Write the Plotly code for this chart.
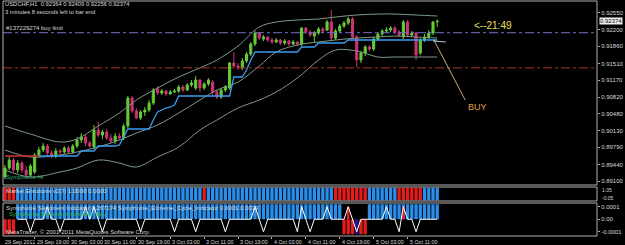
import plotly.graph_objects as go

# ---------------- data ----------------
bars = list(range(103))
opens = [.89182,.89366,.89530,.89325,.89469,.89325,.89223,.89284,.89633,.89735,
         .89817,.89674,.89612,.89715,.89694,.89776,.89694,.89817,.89940,.90002,
         .89879,.89797,.90145,.90043,.90104,.89981,.89920,.90022,.89981,.90227,
         .90801,.90535,.90391,.90514,.90555,.90699,.90986,.90904,.90945,.90883,
         .90924,.90945,.91027,.90965,.91068,.91006,.91170,.91006,.91088,.91129,
         .90924,.90822,.90965,.91006,.91519,.91457,.91416,.91560,.91703,.91908,
         .92134,.92011,.92052,.91990,.91949,.91990,.91929,.91970,.91908,.91949,
         .91908,.92236,.92154,.92072,.92134,.92216,.92195,.92359,.92031,.92175,
         .92277,.92339,.92421,.92052,.91580,.91724,.91847,.91806,.92011,.92113,
         .92175,.92195,.92236,.92154,.92052,.92359,.92093,.92134,.91724,.91990,
         .92052,.92134,.92364]
closes = [.89366,.89530,.89325,.89469,.89325,.89223,.89407,.89633,.89735,.89817,
          .89674,.89612,.89715,.89694,.89776,.89694,.89817,.89940,.90002,.89879,
          .89817,.90145,.90043,.90104,.89981,.89920,.90022,.89981,.90227,.90801,
          .90535,.90391,.90514,.90555,.90699,.90965,.90904,.90945,.90883,.90924,
          .90945,.91027,.90965,.91068,.91109,.91170,.91006,.91088,.91170,.90924,
          .90822,.90965,.91027,.91519,.91457,.91416,.91560,.91703,.91908,.92134,
          .92031,.92052,.91990,.91949,.91990,.91929,.91970,.91908,.91949,.91908,
          .92236,.92154,.92093,.92134,.92216,.92175,.92359,.92031,.92175,.92277,
          .92339,.92421,.92052,.91580,.91724,.91847,.91806,.92011,.92113,.92175,
          .92195,.92236,.92154,.92093,.92359,.92093,.92134,.91683,.91990,.92052,
          .92134,.92359,.92374]
highs = [.89428,.89592,.89571,.89530,.89510,.89407,.89448,.89674,.89797,.89879,
         .89858,.89735,.89776,.89756,.89817,.89817,.89858,.90002,.90084,.90043,
         .89920,.90248,.90309,.90145,.90166,.90063,.90084,.90084,.90268,.90842,
         .90842,.90596,.90555,.90617,.90760,.91006,.91047,.90986,.90965,.90965,
         .90986,.91068,.91068,.91109,.91170,.91252,.91191,.91129,.91211,.91170,
         .90965,.91006,.91068,.91539,.91744,.91519,.91621,.91744,.91949,.92175,
         .92154,.92093,.92072,.92031,.92031,.92011,.92011,.91990,.91990,.91970,
         .92257,.92257,.92195,.92175,.92257,.92257,.92400,.92605,.92216,.92318,
         .92380,.92462,.92462,.92093,.91765,.91888,.91888,.92052,.92154,.92216,
         .92257,.92277,.92277,.92195,.92400,.92400,.92175,.92154,.92031,.92113,
         .92195,.92380,.92409]
lows = [.89141,.89325,.89284,.89264,.89264,.89161,.89182,.89243,.89592,.89694,
        .89612,.89571,.89571,.89633,.89653,.89653,.89653,.89776,.89879,.89817,
        .89776,.89756,.90002,.89961,.89940,.89879,.89858,.89940,.89940,.90186,
        .90494,.90371,.90350,.90432,.90514,.90658,.90863,.90863,.90842,.90863,
        .90904,.90904,.90924,.90945,.91027,.90965,.90924,.90965,.91047,.90863,
        .90781,.90781,.90924,.90965,.91416,.91375,.91375,.91519,.91662,.91867,
        .91990,.91970,.91949,.91908,.91929,.91888,.91888,.91867,.91888,.91867,
        .91867,.92113,.92052,.91949,.92093,.92134,.92175,.91990,.91990,.92134,
        .92236,.92298,.92011,.91437,.91519,.91662,.91765,.91765,.91970,.92072,
        .92134,.92154,.92113,.92052,.92011,.92052,.92052,.91580,.91683,.91949,
        .92011,.92093,.92256]

# Bollinger bands read at sample bars
band_bars = [0, 6, 13, 17, 22, 27, 31, 36, 41, 46, 50, 55, 60, 64, 69, 74, 78, 83, 88, 92, 97, 102]
band_upper = [.90227,.90063,.89899,.89961,.90227,.90494,.90760,.91006,.91232,.91416,.91580,
              .91867,.92257,.92359,.92400,.92421,.92462,.92503,.92523,.92523,.92503,.92482]
band_mid = [.89735,.89592,.89633,.89694,.89797,.89940,.90084,.90248,.90494,.90760,.90965,
            .91129,.91457,.91744,.91888,.91949,.91990,.92031,.92052,.92072,.92052,.92031]
band_lower = [.89325,.89182,.89284,.89366,.89530,.89469,.89387,.89592,.89797,.90145,.90350,
              .90596,.90760,.90924,.91211,.91580,.91785,.91765,.91642,.91642,.91642,.91642]

# Symphonie trend line, one value per bar
trend = ([.89612]*18 + [.89715]*4 + [.89817]*5 + [.89838, .90002] + [.90166]*6 +
         [.90350, .90514, .90555, .90596, .90617, .90658] + [.90842]*13 + [.91232]*3 +
         [.91375, .91580] + [.91744]*11 + [.91847]*4 + [.91929]*7 + [.91990]*22)
trend_red_until = 8

buy_limit = 0.92140
stop_level = 0.91420
last_price = 0.92374
buy_mark = [0.91970, 0.91950]

price_ticks = [0.92550, 0.92200, 0.91860, 0.91510, 0.91170, 0.90820, 0.90480,
               0.90130, 0.89790, 0.89440, 0.89100]

time_label_bars = [-0.45, 7, 15, 23, 31, 39, 47, 55, 63, 71, 79, 87, 95]
time_labels = ["29 Sep 2011", "29 Sep 19:00", "30 Sep 03:00", "30 Sep 11:00", "30 Sep 19:00",
               "3 Oct 03:00", "3 Oct 11:00", "3 Oct 19:00", "4 Oct 03:00", "4 Oct 11:00",
               "4 Oct 19:00", "5 Oct 03:00", "5 Oct 11:00"]

# Market Emotions state per bar (R = red, B = blue)
emotions = ("RRRBBBBBBB" "BBBBBBBBBB" "BBBBBBBBBB" "BBBBBBBBBB" "BBBBBBBRBB"
            "BBBBBBBBBB" "BBBBBBBBBB" "BBBBBBBBRR" "RRRRRRBBBB" "BBBRRRRRRB" "BBB")
# Sentiment per bar (B = blue up, R = red down, N = navy down)
sentiment = ("RRRBBBBBBB" "BBBBBBBBBB" "BBBBBBBBBB" "BBBBBBBBBB" "BBBBBBBBBB"
             "BBBBBBBBBB" "BBBBBBBBBB" "BBBBBBBBBB" "RRRNRRBBBB" "BBBBBBBBBB" "BBB")
spike_red_up = [81, 94]
# Extreme cycle line (units of 0.0001)
cycle = [0, 0, 0, 0, 0, 0, -1, 0, 0, 0,
         1, 0, 0, -1, 0, 0, 0, 0, 0, 1,
         0, 1, 0, -1, 0, 0, 0, 0, 0, 0,
         0, 0, -1, 0, 0, 0, 0, 0, 0, 0,
         -1, 0, 0, 0, 0, -1, 0, 0, 0, 0,
         0, 0, -1, 0, 0, 0, 0, 0, 0, 1,
         0, -1, 0, 0, 0, 0, 0, 0, 0, -1,
         1, 0, -1, 0, 0, 0, 1, 0, 0, 0,
         0, 1, 0, -1, 0, 0, 0, 0, 0, 0,
         1, 0, 0, -1, 1, 0, 0, -1, 0, 0,
         0, 0, 0]

# ---------------- styling ----------------
BG = "black"
GREEN = "#66CC33"
PINK = "#CC3377"
BAND = "#7E9A86"
FONT = "Liberation Sans"
TXT = "#D8D8D8"
FRAME = "#B0B0B0"

H_TOP, H_BOT = 1, 236
plot_h = H_BOT - H_TOP
def py(p):
    return (H_BOT - p) / plot_h

def pxx(p):
    return (p - 3) / 601

fig = go.Figure()

for band in (band_upper, band_mid, band_lower):
    fig.add_trace(go.Scatter(x=band_bars, y=band, mode="lines",
                             line=dict(color=BAND, width=1, shape="spline"), hoverinfo="skip"))

fig.add_trace(go.Scatter(x=bars[:trend_red_until + 1], y=trend[:trend_red_until + 1], mode="lines",
                         line=dict(color="#D03030", width=1.6)))
fig.add_trace(go.Scatter(x=bars[trend_red_until:], y=trend[trend_red_until:], mode="lines",
                         line=dict(color="#3C9CF2", width=1.3)))
fig.add_trace(go.Scatter(x=[bars[-1] - 1, bars[-1] + 2], y=buy_mark, mode="lines",
                         line=dict(color="#C8C8C8", width=1)))

fig.add_trace(go.Candlestick(x=bars, open=opens, high=highs, low=lows, close=closes,
                             increasing=dict(line=dict(color=GREEN, width=1), fillcolor=GREEN),
                             decreasing=dict(line=dict(color=PINK, width=1), fillcolor=PINK),
                             whiskerwidth=0))

# Market Emotions panel
emo_colors = ["#E31C1C" if s == "R" else "#2A8EEA" for s in emotions]
fig.add_trace(go.Bar(x=bars, y=[1]*len(bars), marker=dict(color=emo_colors, line=dict(width=0)),
                     width=0.78, xaxis="x", yaxis="y2"))

# Sentiment panel
sent_vals = [1.2e-4 if s == "B" else -1.2e-4 for s in sentiment]
sent_cols = {"B": "#2A8EEA", "R": "#E31C1C", "N": "#1A1AA0"}
fig.add_trace(go.Bar(x=bars, y=sent_vals, marker=dict(color=[sent_cols[s] for s in sentiment], line=dict(width=0)),
                     width=0.78, xaxis="x", yaxis="y3"))
fig.add_trace(go.Bar(x=spike_red_up, y=[1e-4]*len(spike_red_up), marker=dict(color="#E31C1C", line=dict(width=0)),
                     width=0.6, xaxis="x", yaxis="y3"))
fig.add_trace(go.Scatter(x=bars[3:], y=[v * 1e-4 for v in cycle[3:]], mode="lines",
                         line=dict(color="white", width=1), xaxis="x", yaxis="y3"))

shapes = []
shapes.append(dict(type="line", xref="paper", x0=0, x1=1, yref="y", y0=buy_limit, y1=buy_limit,
                   line=dict(color="#7272C8", width=1, dash="dashdot")))
shapes.append(dict(type="line", xref="paper", x0=0, x1=1, yref="y", y0=stop_level, y1=stop_level,
                   line=dict(color="#A83232", width=1, dash="dashdot")))
shapes.append(dict(type="line", xref="x", yref="y", x0=101.2, y0=0.91990, x1=108.6, y1=0.90760,
                   line=dict(color="#C8A878", width=1)))
for (b, t) in [(185, 1), (201, 187), (236, 203)]:
    shapes.append(dict(type="rect", xref="paper", yref="paper", x0=0, x1=1, y0=py(b), y1=py(t),
                       line=dict(color=FRAME, width=1), fillcolor="rgba(0,0,0,0)"))

ann = []
def txt(x, y, s, color=TXT, size=6, xref="paper", yref="paper", xanchor="left", yanchor="middle"):
    ann.append(dict(x=x, y=y, xref=xref, yref=yref, text=s, showarrow=False, xanchor=xanchor,
                    yanchor=yanchor, font=dict(family=FONT, size=size, color=color)))

txt(pxx(3), py(4.5), "USDCHF,H1  0.92364 0.92409 0.92256 0.92374", size=5.8)
txt(pxx(3), py(11.5), "3 minutes 8 seconds left to bar end", size=5.8)
txt(pxx(4), buy_limit, "#137229274 buy limit", yref="y", yanchor="bottom")
txt(pxx(4), py(177), "Symphonie Hi", color="#33B07A")
txt(110.3, 0.92298, "<--21:49", color="#E8E060", size=10, xref="x", yref="y")
txt(108.8, 0.90620, "BUY", color="#E0A050", size=9, xref="x", yref="y")
txt(pxx(4), py(191), "Market Emotions v2(7) 1.0000 0.0000")
txt(pxx(4), py(208), "Symphonie Sentiment Indicator 0.267174 Symphonie_Extreme_Cycle_Indicator 0.0001 0.0039")
txt(pxx(7), py(213.5), "Symphonie Sentiment Indicator: Buy", color="#2FB84A")
txt(pxx(4), py(232), "MetaTrader, \u00a9 2001-2011 MetaQuotes Software Corp.")
ann.append(dict(x=1, y=last_price, xref="paper", yref="y", text="0.92374", showarrow=False,
                xanchor="left", yanchor="middle", xshift=2, bgcolor="#F0F0F0", borderpad=0,
                font=dict(family=FONT, size=6, color="black")))
ann.append(dict(x=1, y=py(189.5), xref="paper", yref="paper", text="1.05", showarrow=False, xanchor="left",
                yanchor="middle", xshift=3, font=dict(family=FONT, size=5, color=TXT)))
ann.append(dict(x=1, y=py(197.5), xref="paper", yref="paper", text="-0.05", showarrow=False, xanchor="left",
                yanchor="middle", xshift=3, font=dict(family=FONT, size=5, color=TXT)))
for b, s in zip(time_label_bars, time_labels):
    ann.append(dict(x=b, y=0, xref="x", yref="paper", text=s, showarrow=False, xanchor="left",
                    yanchor="top", yshift=-1, font=dict(family=FONT, size=5.4, color=TXT)))

fig.update_layout(
    width=625, height=245, margin=dict(l=3, r=21, t=H_TOP, b=245 - H_BOT),
    paper_bgcolor=BG, plot_bgcolor=BG, showlegend=False, barmode="overlay",
    xaxis=dict(domain=[0, 1], range=[-0.47, 139.7], showgrid=False, zeroline=False,
               showticklabels=False, tickvals=time_label_bars[1:], ticks="outside", ticklen=2,
               tickcolor=FRAME, rangeslider=dict(visible=False), anchor="y3", fixedrange=True),
    yaxis=dict(domain=[py(185), 1], range=[0.89018, 0.92790], side="right", showgrid=False,
               zeroline=False, tickvals=price_ticks, ticktext=["%.5f" % v for v in price_ticks],
               ticks="outside", ticklen=2, tickcolor=FRAME, tickfont=dict(family=FONT, size=6, color=TXT),
               anchor="x"),
    yaxis2=dict(domain=[py(201), py(187)], range=[-0.05, 1.05], side="right", showgrid=False,
                zeroline=False, showticklabels=False, anchor="x"),
    yaxis3=dict(domain=[0, py(203)], range=[-0.000134, 0.00013], side="right", showgrid=False,
                zeroline=False, tickvals=[1e-4, 0, -1e-4], ticktext=["0.0001", "0.00", "-0.0001"],
                ticks="outside", ticklen=2, tickcolor=FRAME, tickfont=dict(family=FONT, size=6, color=TXT),
                anchor="x"),
    shapes=shapes, annotations=ann,
)
fig.write_html("out.html")
